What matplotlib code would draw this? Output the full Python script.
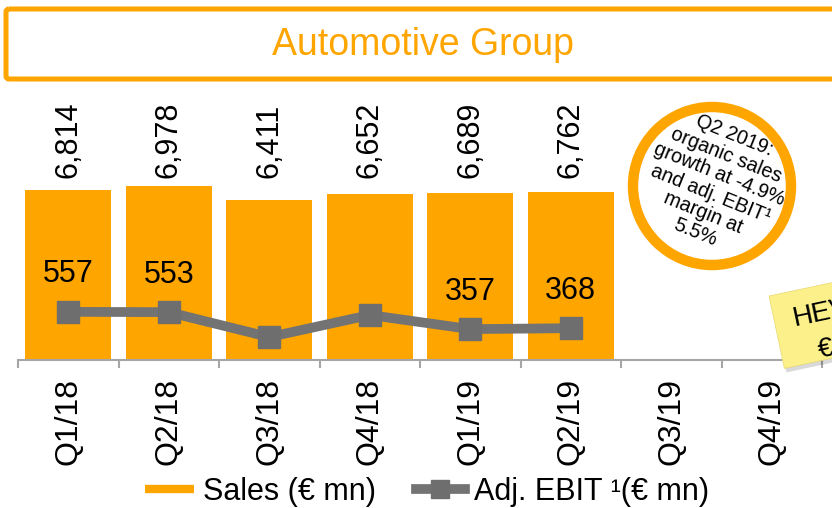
import matplotlib.pyplot as plt
import numpy as np
from matplotlib.lines import Line2D
from matplotlib.patches import Circle, FancyBboxPatch, Polygon

plt.rcParams['font.family'] = ['Liberation Sans', 'DejaVu Sans']

ORANGE = '#FFA500'
GREY = '#737373'
AXIS = '#A6A6A6'
NOTE = '#FBF08A'

# data
quarters = ['Q1/18', 'Q2/18', 'Q3/18', 'Q4/18', 'Q1/19', 'Q2/19', 'Q3/19', 'Q4/19']
sales = [6814, 6978, 6411, 6652, 6689, 6762]
sales_labels = ['6,814', '6,978', '6,411', '6,652', '6,689', '6,762']
ebit = [557, 553, 265, 520, 357, 368]
ebit_labels = ['557', '553', '', '', '357', '368']

W, H = 832, 508
fig = plt.figure(figsize=(W / 100, H / 100), dpi=100, facecolor='white')

# main axes (pixel box: x 18..822, y 95..360)
ax = fig.add_axes([18 / W, 1 - 360 / H, 804 / W, 265 / H])
ax2 = ax.twinx()

x = np.arange(len(sales))
ax.bar(x, sales, width=0.855, color=ORANGE, zorder=2)
ax.set_xlim(-0.5, len(quarters) - 0.5)
ax.set_ylim(0, 10640)

for xi, lab in zip(x, sales_labels):
    ax.text(xi, 0.687, lab, transform=ax.get_xaxis_transform(), rotation=90,
            ha='center', va='bottom', fontsize=22, color='black')

ax2.plot(x, ebit, color=GREY, lw=7, marker='s', markersize=16,
         markerfacecolor='#6E6E6E', markeredgecolor='#6E6E6E', zorder=3)
ax2.set_ylim(0, 3064)
ax2.set_xlim(-0.5, len(quarters) - 0.5)
for xi, v, lab in zip(x, ebit, ebit_labels):
    if lab:
        ax2.annotate(lab, (xi, v), xytext=(0, 27), textcoords='offset points',
                     ha='center', va='center', fontsize=22, color='black')

for a in (ax, ax2):
    for s in ('top', 'right', 'left'):
        a.spines[s].set_visible(False)
    a.set_yticks([])
ax2.spines['bottom'].set_visible(False)
ax.spines['bottom'].set_color(AXIS)
ax.spines['bottom'].set_linewidth(1.5)

ax.set_xticks(np.arange(len(quarters)))
ax.set_xticklabels(quarters, rotation=90, fontsize=23)
ax.tick_params(axis='x', which='major', length=0, pad=13)
ax.set_xticks(np.arange(len(quarters) + 1) - 0.5, minor=True)
ax.tick_params(axis='x', which='minor', length=6, width=1.5, color=AXIS)

# legend
handles = [Line2D([], [], color=ORANGE, lw=6, solid_capstyle='butt'),
           Line2D([], [], color=GREY, lw=7, marker='s', markersize=13,
                  markerfacecolor='#6E6E6E', markeredgecolor='#6E6E6E')]
fig.legend(handles, ['Sales (€ mn)', 'Adj. EBIT \u00b9(€ mn)'], loc='center',
           bbox_to_anchor=(427 / W, 1 - 492 / H), ncol=2, frameon=False,
           fontsize=22, handlelength=1.6, handletextpad=0.3, columnspacing=1.3)

# overlay in pixel coordinates for the slide decorations
ov = fig.add_axes([0, 0, 1, 1], zorder=5)
ov.set_xlim(0, W)
ov.set_ylim(H, 0)
ov.axis('off')
ov.patch.set_alpha(0)

ov.add_patch(FancyBboxPatch((6, 9), 900, 70, boxstyle='round,pad=0,rounding_size=3',
                            fill=False, ec=ORANGE, lw=3.6))
ov.text(423, 45, 'Automotive Group', ha='center', va='center', fontsize=27, color=ORANGE)

ov.add_patch(Circle((712, 186), 79, fc='white', ec=ORANGE, lw=7.5))
ov.text(715, 184, 'Q2 2019:\norganic sales\ngrowth at -4.9%\nand adj. EBIT\u00b9\nmargin at\n5.5%',
        ha='center', va='center', multialignment='center', rotation=-22,
        rotation_mode='anchor', fontsize=14.3, linespacing=1.12, color='black')

# sticky note, rotated ~12 degrees, runs off the right edge like the slide
th = np.deg2rad(12)
u = np.array([np.cos(th), -np.sin(th)])
v = np.array([np.sin(th), np.cos(th)])
p0 = np.array([769, 296])
corners = [p0, p0 + 140 * u, p0 + 140 * u + 74 * v, p0 + 74 * v]
shadow = [c + np.array([2, 4]) for c in corners]
ov.add_patch(Polygon(shadow, closed=True, fc='#000000', alpha=0.15, ec='none'))
ov.add_patch(Polygon(corners, closed=True, fc=NOTE, ec='#E8D870', lw=0.5))
ov.text(795, 326, 'HEV', ha='left', va='baseline', rotation=12, rotation_mode='anchor',
        fontsize=20, color='black', clip_on=True)
ov.text(820, 358, '€', ha='left', va='baseline', rotation=12, rotation_mode='anchor',
        fontsize=20, color='black', clip_on=True)

fig.savefig('out.png', dpi=100, facecolor='white')
